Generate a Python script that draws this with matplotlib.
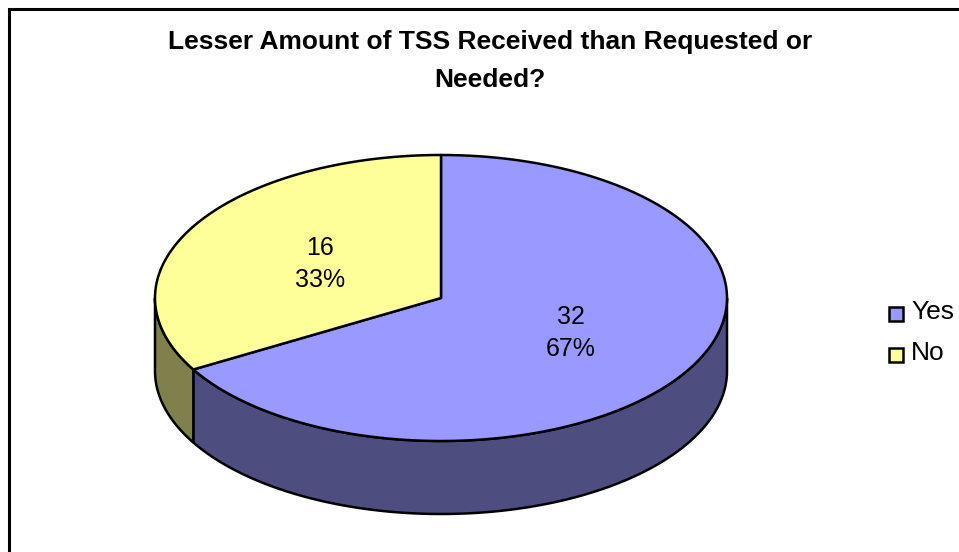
import numpy as np
import matplotlib
matplotlib.use("Agg")
import matplotlib.pyplot as plt
from matplotlib.patches import Polygon, Rectangle

# data
labels = ["Yes", "No"]
counts = [32, 16]
percents = ["67%", "33%"]
title_text = "Lesser Amount of TSS Received than Requested or\nNeeded?"

top_colors = ["#9999ff", "#ffff99"]
side_colors = ["#4d4d80", "#80804d"]

plt.rcParams['font.family'] = ['Liberation Sans', 'DejaVu Sans']

fig = plt.figure(figsize=(9.59, 5.52), dpi=100)
ax = fig.add_axes([0, 0, 1, 1])
ax.set_xlim(0, 959)
ax.set_ylim(552, 0)
ax.axis('off')

# pie geometry in pixels
cx, cy = 441, 298
rx, ry = 286, 143
depth = 73


def ell(t):
    return cx + rx * np.cos(t), cy - ry * np.sin(t)


#chart frame, open on the right and bottom
ax.plot([9, 9, 959], [552, 9, 9], color='black', lw=2.2, solid_joinstyle='miter', zorder=1)

# slices go clockwise from 12 o'clock
total = sum(counts)
starts = []
ends = []
a = 90.0
for c in counts:
    starts.append(a)
    a = a - 360.0 * c / total
    ends.append(a)

# side walls, only the part of each slice facing the viewer (180..360 deg)
for i in range(len(counts)):
    lo = ends[i] % 360
    hi = starts[i] % 360
    if hi <= lo:
        hi += 360
    lo2 = max(lo, 180)
    hi2 = min(hi, 360)
    if hi2 > lo2:
        t = np.radians(np.linspace(lo2, hi2, 150))
        x, y = ell(t)
        xs = np.concatenate([x, x[::-1]])
        ys = np.concatenate([y, y[::-1] + depth])
        ax.add_patch(Polygon(np.column_stack([xs, ys]), closed=True, fc=side_colors[i],
                             ec='black', lw=1.8, joinstyle='round', zorder=2))

# top faces
for i in range(len(counts)):
    t = np.radians(np.linspace(starts[i], ends[i], 300))
    x, y = ell(t)
    xs = np.concatenate([[cx], x])
    ys = np.concatenate([[cy], y])
    ax.add_patch(Polygon(np.column_stack([xs, ys]), closed=True, fc=top_colors[i],
                         ec='black', lw=1.8, joinstyle='round', zorder=3))

# slice labels
label_pos = [(571, 333), (320, 264)]
for i in range(len(counts)):
    ax.text(label_pos[i][0], label_pos[i][1], f"{counts[i]}\n{percents[i]}", ha='center', va='center',
            fontsize=18, linespacing=1.38, color='black', zorder=4)

ax.text(490, 61, title_text, ha='center', va='center', fontsize=19, fontweight='bold',
        linespacing=1.7, color='black')

# legend
leg_y = [314, 355]
for i in range(len(labels)):
    ax.add_patch(Rectangle((889, leg_y[i] - 7), 14, 14, fc=top_colors[i], ec='black', lw=1.8, zorder=4))
    ax.text(911, leg_y[i] - 2, labels[i], ha='left', va='center', fontsize=19, color='black')

fig.savefig("out.png", dpi=100)
